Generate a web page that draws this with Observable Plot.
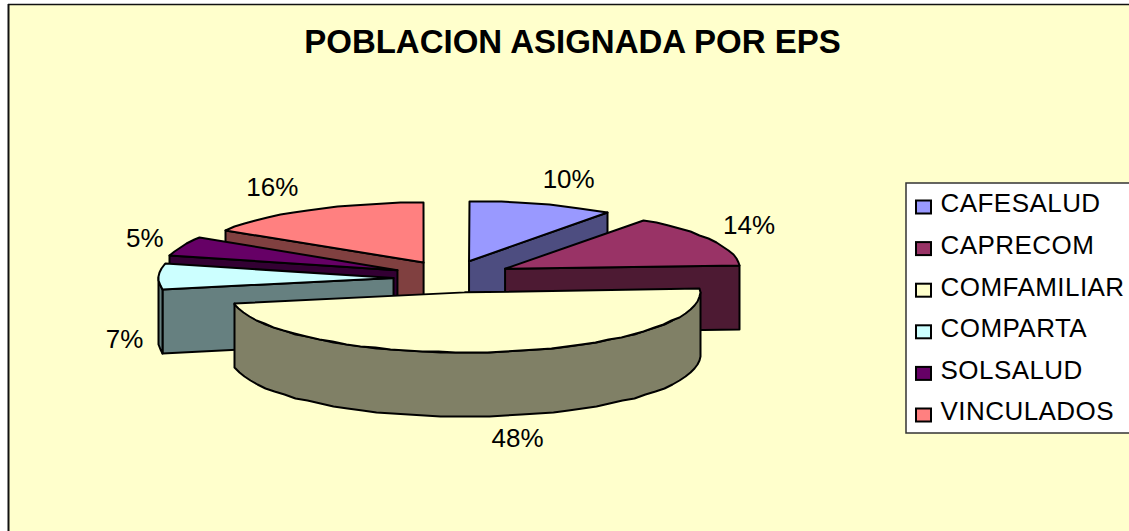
<!DOCTYPE html>
<html>
<head>
<meta charset="utf-8">
<style>html,body{margin:0;padding:0;background:#fff}svg{display:block}</style>
<script src="https://cdn.jsdelivr.net/npm/d3@7"></script>
<script src="https://cdn.jsdelivr.net/npm/@observablehq/plot@0.6"></script>
</head>
<body>
<div id="chart"></div>
<script>
const chartTitle = "POBLACION ASIGNADA POR EPS";
const categories = ["CAFESALUD", "CAPRECOM", "COMFAMILIAR", "COMPARTA", "SOLSALUD", "VINCULADOS"];
const shares = [10, 14, 48, 7, 5, 16];
const topColors = ["#9999FF", "#993366", "#FFFFCC", "#CCFFFF", "#660066", "#FF8080"];
const sideColors = ["#4D4D80", "#4D1A33", "#808066", "#668080", "#330033", "#804040"];

// Layout of the exploded, tilted pie (in picture units)
const W = 1129, H = 531;
const center = [452, 276], rx = 235, ry = 60, depth = 64, pull = [60, 16];
const apexNudge = {CAFESALUD: [-2, 0], COMFAMILIAR: [5, 0], COMPARTA: [1, 2]};
const labelOffset = {CAFESALUD: [27, -25], CAPRECOM: [38, -14], COMFAMILIAR: [23, 23], COMPARTA: [-34, 64], SOLSALUD: [-37, -8], VINCULADOS: [-38, -22]};

const rad = (a) => a * Math.PI / 180;
const total = d3.sum(shares);
let cum = 0;
const slices = categories.map((name, i) => {
  const start = cum / total * 360;
  cum += shares[i];
  const end = cum / total * 360, mid = (start + end) / 2;
  const n = apexNudge[name] || [0, 0];
  const ax = center[0] + pull[0] * Math.sin(rad(mid)) + n[0];
  const ay = center[1] - pull[1] * Math.cos(rad(mid)) + n[1];
  const rim = (a) => ({x: Math.round(ax + rx * Math.sin(rad(a))), y: Math.round(ay - ry * Math.cos(rad(a)))});
  return {name, i, start, end, mid, ax, ay, rim, share: shares[i]};
});
const down = (p) => ({x: p.x, y: p.y + depth});
const arc = (s, a0, a1, step = 4) => {
  const pts = [];
  for (let a = a0; a < a1; a += step) pts.push(s.rim(a));
  pts.push(s.rim(a1));
  return pts;
};
const closed = (pts) => [...pts, pts[0]];
const poly = (pts, fill) => Plot.line(closed(pts), {x: "x", y: "y", fill, stroke: "#000", strokeWidth: 2, strokeLinejoin: "round"});

function sliceMarks(s) {
  const marks = [];
  const apex = {x: s.ax, y: s.ay};
  const side = sideColors[s.i];
  // radial face turned toward the viewer
  const edgeAngle = s.mid < 180 ? s.end : s.start;
  if (s.name !== "COMFAMILIAR") {
    const e = s.rim(edgeAngle);
    marks.push(poly([apex, e, down(e), down(apex)], side));
  }
  // outer wall on the front half of the ellipse
  const a0 = Math.max(s.start, 90), a1 = Math.min(s.end, 270);
  if (a1 > a0) {
    const wall = arc(s, a0, a1);
    marks.push(poly([...wall, ...wall.slice().reverse().map(down)], side));
  }
  marks.push(poly([apex, ...arc(s, s.start, s.end)], topColors[s.i]));
  return marks;
}
const drawOrder = ["VINCULADOS", "SOLSALUD", "COMPARTA", "CAFESALUD", "CAPRECOM", "COMFAMILIAR"];
const pieMarks = drawOrder.flatMap((n) => sliceMarks(slices.find((s) => s.name === n)));

const labels = slices.map((s) => {
  const o = labelOffset[s.name];
  const p = {x: s.ax + rx * Math.sin(rad(s.mid)), y: s.ay - ry * Math.cos(rad(s.mid))};
  const extra = s.name === "COMFAMILIAR" ? depth : 0;
  return {x: p.x + o[0], y: p.y + o[1] + extra, text: s.share + "%"};
});

const legendRows = categories.map((name, i) => ({name, fill: topColors[i], y: 203.5 + i * 41.6}));
const font = "'Liberation Sans', Arial, sans-serif";

const chart = Plot.plot({
  width: W, height: H, margin: 0,
  x: {domain: [0, W], range: [0, W], axis: null},
  y: {domain: [0, H], range: [0, H], axis: null},
  style: {background: "#fff", fontFamily: font},
  marks: [
    Plot.rect([{x1: 8, x2: W, y1: 4, y2: H}], {x1: "x1", x2: "x2", y1: "y1", y2: "y2", fill: "#FFFFCC"}),
    Plot.ruleX([8], {y1: 4, y2: H, stroke: "#111", strokeWidth: 2}),
    Plot.ruleY([4], {x1: 8, x2: W, stroke: "#111", strokeWidth: 1.5}),
    Plot.text([chartTitle], {x: 572, y: 42, text: (d) => d, fontSize: 33, fontWeight: "bold", fontFamily: font, fill: "#000", textAnchor: "middle"}),
    ...pieMarks,
    Plot.text(labels, {x: "x", y: "y", text: "text", fontSize: 26, fontFamily: font, fill: "#000", textAnchor: "middle"}),
    Plot.rect([{x1: 906, x2: W + 1, y1: 183, y2: 433}], {x1: "x1", x2: "x2", y1: "y1", y2: "y2", fill: "#fff", stroke: "#333", strokeWidth: 1.5}),
    Plot.rect(legendRows, {x1: () => 916, x2: () => 931, y1: (d) => d.y - 3, y2: (d) => d.y + 10, fill: "fill", stroke: "#000", strokeWidth: 2}),
    Plot.text(legendRows, {x: () => 940, y: "y", text: "name", fontSize: 26, fontFamily: font, fill: "#000", textAnchor: "start"})
  ]
});
chart.querySelectorAll("text").forEach((t) => {
  if (categories.includes(t.textContent)) t.style.letterSpacing = "0.45px";
});
document.getElementById("chart").append(chart);
</script>
</body>
</html>
